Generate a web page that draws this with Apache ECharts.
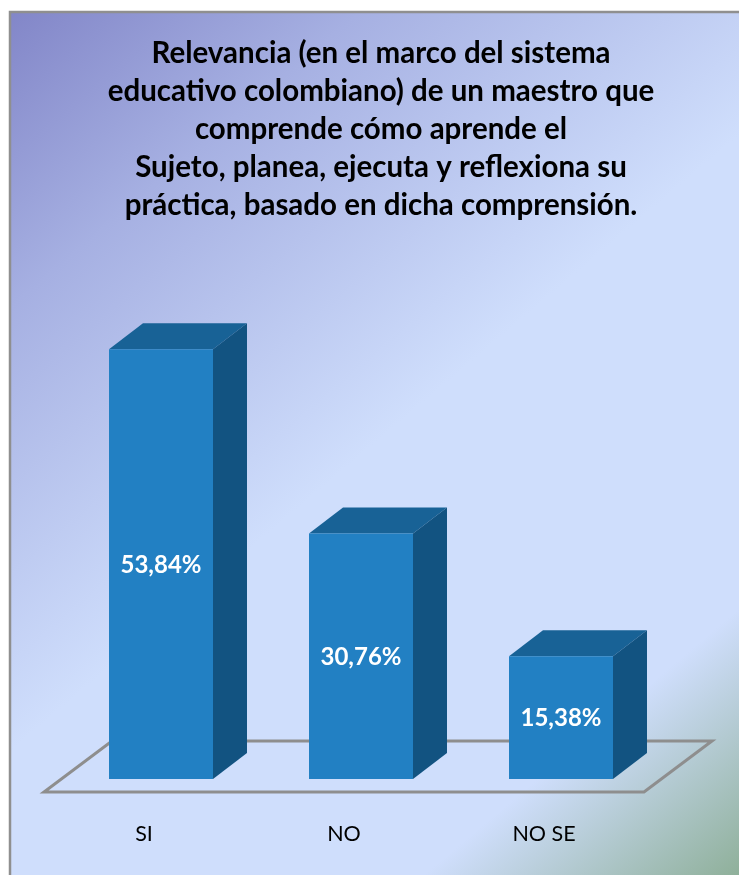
<!DOCTYPE html>
<html>
<head>
<meta charset="utf-8">
<style>html,body{margin:0;padding:0;background:#fff}#chart{width:739px;height:875px}</style>
<script src="https://cdn.jsdelivr.net/npm/echarts@6/dist/echarts.min.js"></script>
</head>
<body>
<div id="chart"></div>
<script>
// Survey answers and their shares, in percent
const categories = ['SI', 'NO', 'NO SE'];
const shares = [53.84, 30.76, 15.38];
const titleLines = [
  'Relevancia (en el marco del sistema',
  'educativo colombiano) de un maestro que',
  'comprende cómo aprende el',
  'Sujeto, planea, ejecuta y reflexiona su',
  'práctica, basado en dicha comprensión.'
];

const FONT = 'Lato, "Open Sans", sans-serif';
const DEPTH_X = 34, DEPTH_Y = 26;       // oblique offset of a bar's back face
const BAR_WIDTH = 104;

const chart = echarts.init(document.getElementById('chart'), null, { renderer: 'canvas' });

// Floor parallelogram, built from the plot rectangle
function renderFloor(params) {
  const r = params.coordSys;
  const front = r.y + r.height + 13;
  const back = front - 2 * DEPTH_Y + 1;
  const left = r.x, right = r.x + r.width;
  return {
    type: 'polygon',
    shape: { points: [[left, front], [right, front], [right + 2 * DEPTH_X, back], [left + 2 * DEPTH_X, back]] },
    style: { fill: 'none', stroke: '#8e8e8e', lineWidth: 3 }
  };
}

// Oblique bar: front face, top face, side face and a centred value label
function renderBar(params, api) {
  const base = api.coord([api.value(0), 0]);
  const top = api.coord([api.value(0), api.value(1)]);
  const x0 = base[0] + DEPTH_X / 2 - BAR_WIDTH / 2, x1 = x0 + BAR_WIDTH;
  const yT = top[1], yB = base[1];
  return {
    type: 'group',
    children: [
      { type: 'polygon', shape: { points: [[x0, yT], [x0 + DEPTH_X, yT - DEPTH_Y], [x1 + DEPTH_X, yT - DEPTH_Y], [x1, yT]] }, style: { fill: '#186296' } },
      { type: 'polygon', shape: { points: [[x1, yT], [x1 + DEPTH_X, yT - DEPTH_Y], [x1 + DEPTH_X, yB - DEPTH_Y], [x1, yB]] }, style: { fill: '#125381' } },
      { type: 'rect', shape: { x: x0, y: yT, width: BAR_WIDTH, height: yB - yT }, style: { fill: '#2280c3' } },
      { type: 'text', x: (x0 + x1) / 2, y: (yT + yB) / 2 + 1,
        style: { text: api.value(1).toFixed(2).replace('.', ',') + '%', fill: '#fff', font: 'bold 24px ' + FONT, align: 'center', verticalAlign: 'middle' } }
    ]
  };
}

chart.setOption({
  animation: false,
  backgroundColor: '#ffffff',
  graphic: [
    { type: 'rect', z: -10, shape: { x: 10, y: 12, width: 740, height: 875 },
      style: {
        stroke: '#8f8f8f', lineWidth: 2.5,
        fill: new echarts.graphic.LinearGradient(10, 12, 739, 875, [
          { offset: 0, color: '#8286c8' },
          { offset: 0.2, color: '#a6b0e2' },
          { offset: 0.5, color: '#cfdefc' },
          { offset: 0.82, color: '#cfdefc' },
          { offset: 1, color: '#8fb09a' }
        ], true)
      } }
  ],
  title: {
    text: titleLines.join('\n'),
    left: 376, top: 29, textAlign: 'center',
    textStyle: { fontFamily: FONT, fontWeight: 'bold', fontSize: 29.5, lineHeight: 38, color: '#000' }
  },
  grid: { left: 44, width: 600, top: 300, height: 479 },
  xAxis: {
    type: 'category', data: categories,
    axisLine: { show: false }, axisTick: { show: false },
    axisLabel: { color: '#000', fontFamily: FONT, fontSize: 21.5, margin: 44 }
  },
  yAxis: { type: 'value', min: 0, max: 60, show: false },
  series: [
    { type: 'custom', coordinateSystem: 'cartesian2d', z: 1, silent: true, data: [[0, 0]], renderItem: renderFloor },
    { type: 'custom', coordinateSystem: 'cartesian2d', z: 2, data: shares.map((v, i) => [i, v]), encode: { x: 0, y: 1 }, renderItem: renderBar }
  ]
});
</script>
</body>
</html>
